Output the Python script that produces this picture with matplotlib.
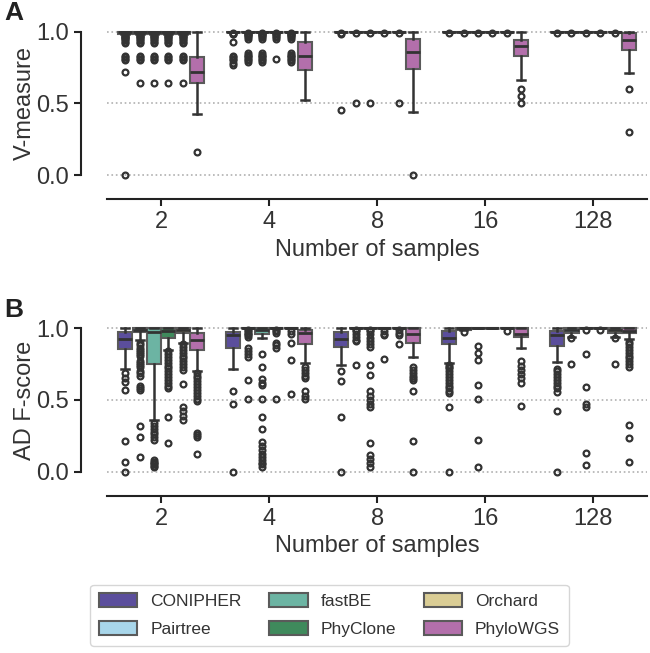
"""
Grouped boxplots of V-measure and AD F-score per method against number of samples.
"""
import numpy as np
import matplotlib.pyplot as plt
from matplotlib.patches import Patch

plt.rcParams['font.family'] = ['Liberation Sans', 'DejaVu Sans']

methods = ['CONIPHER', 'Pairtree', 'fastBE', 'PhyClone', 'Orchard', 'PhyloWGS']
colors = ['#5b4e9c', '#a8d6ea', '#6cb4a3', '#3f8a5c', '#dacd95', '#b36fab']
samples = ['2', '4', '8', '16', '128']

# box stats per sample group: (q1, median, q3, whisker low, whisker high)
FLAT = (1.0, 1.0, 1.0, 1.0, 1.0)
TOP = (0.985, 1.0, 1.0, 0.985, 1.0)

# --- panel A: V-measure ---
vm_conipher = [TOP, FLAT, FLAT, FLAT, FLAT]
vm_pairtree = [TOP, FLAT, FLAT, FLAT, FLAT]
vm_fastbe = [TOP, FLAT, FLAT, FLAT, FLAT]
vm_phyclone = [TOP, FLAT, FLAT, FLAT, FLAT]
vm_orchard = [TOP, FLAT, FLAT, FLAT, FLAT]
vm_phylowgs = [(0.645, 0.72, 0.82, 0.425, 1.0), (0.73, 0.83, 0.93, 0.525, 1.0),
               (0.74, 0.86, 0.95, 0.44, 1.0), (0.83, 0.90, 0.94, 0.665, 1.0),
               (0.87, 0.94, 0.99, 0.71, 1.0)]

vm_conipher_out = [[0.975, 0.97, 0.965, 0.96, 0.955, 0.95, 0.94, 0.93, 0.92, 0.83, 0.82, 0.81, 0.80, 0.72, 0.0],
                   [0.99, 0.985, 0.98, 0.93, 0.83, 0.82, 0.81, 0.80, 0.78, 0.77],
                   [0.99, 0.985, 0.45], [0.993], [0.99]]
vm_pairtree_out = [[0.975, 0.97, 0.965, 0.96, 0.95, 0.94, 0.93, 0.92, 0.83, 0.82, 0.81, 0.80, 0.645],
                   [0.99, 0.985, 0.98, 0.975, 0.97, 0.96, 0.95, 0.85, 0.84, 0.83, 0.82, 0.81, 0.80, 0.79],
                   [0.99, 0.50], [0.993], [0.99]]
vm_fastbe_out = [[0.975, 0.97, 0.965, 0.96, 0.95, 0.94, 0.93, 0.92, 0.83, 0.82, 0.81, 0.80, 0.645],
                 [0.99, 0.985, 0.98, 0.975, 0.97, 0.96, 0.95, 0.85, 0.84, 0.83, 0.82, 0.81, 0.80, 0.79],
                 [0.99, 0.50], [0.993], [0.99]]
vm_phyclone_out = [[0.975, 0.97, 0.965, 0.96, 0.95, 0.94, 0.93, 0.92, 0.83, 0.82, 0.81, 0.80, 0.645],
                   [0.99, 0.985, 0.98, 0.97, 0.96, 0.95, 0.81],
                   [0.99], [0.993], [0.99]]
vm_orchard_out = [[0.975, 0.97, 0.965, 0.96, 0.95, 0.94, 0.93, 0.92, 0.83, 0.82, 0.81, 0.80, 0.645],
                  [0.99, 0.985, 0.98, 0.975, 0.97, 0.96, 0.95, 0.85, 0.84, 0.83, 0.82, 0.81, 0.80, 0.79],
                  [0.99, 0.50], [0.993], [0.99]]
vm_phylowgs_out = [[0.16], [], [0.0], [0.60, 0.55, 0.50], [0.60, 0.30]]

# --- panel B: AD F-score ---
ad_conipher = [(0.856, 0.926, 0.977, 0.716, 1.0), (0.865, 0.953, 0.977, 0.714, 1.0),
               (0.867, 0.923, 0.977, 0.744, 1.0), (0.888, 0.935, 0.984, 0.756, 1.0),
               (0.877, 0.953, 0.984, 0.767, 1.0)]
ad_pairtree = [(0.977, 0.99, 1.0, 0.92, 1.0), FLAT, FLAT, TOP, (0.965, 0.99, 1.0, 0.94, 1.0)]
ad_fastbe = [(0.75, 0.972, 1.0, 0.36, 1.0), (0.96, 0.99, 1.0, 0.93, 1.0), FLAT, FLAT, FLAT]
ad_phyclone = [(0.935, 0.984, 1.0, 0.85, 1.0), FLAT, FLAT, FLAT, FLAT]
ad_orchard = [(0.965, 0.985, 1.0, 0.90, 1.0), FLAT, FLAT, FLAT, (0.965, 0.99, 1.0, 0.94, 1.0)]
ad_phylowgs = [(0.85, 0.92, 0.965, 0.70, 1.0), (0.89, 0.965, 0.99, 0.76, 1.0),
               (0.895, 0.96, 1.0, 0.80, 1.0), (0.937, 0.96, 1.0, 0.86, 1.0),
               (0.965, 0.98, 1.0, 0.923, 1.0)]

ad_conipher_out = [[0.686, 0.656, 0.628, 0.57, 0.216, 0.07, 0.0],
                   [0.56, 0.47, 0.0],
                   [0.70, 0.63, 0.38, 0.0],
                   [0.744, 0.73, 0.72, 0.70, 0.68, 0.66, 0.64, 0.62, 0.60, 0.58, 0.56, 0.547, 0.453, 0.0],
                   [0.714, 0.70, 0.68, 0.66, 0.64, 0.62, 0.60, 0.58, 0.558, 0.42, 0.0]]
ad_pairtree_out = [[0.895, 0.88, 0.865, 0.85, 0.835, 0.82, 0.81, 0.77, 0.76, 0.745, 0.73, 0.70, 0.685,
                    0.67, 0.60, 0.585, 0.57, 0.32, 0.24, 0.10],
                   [0.99, 0.98, 0.97, 0.96, 0.95, 0.94, 0.86, 0.84, 0.82, 0.80, 0.64, 0.51],
                   [0.99, 0.98, 0.96, 0.94, 0.92, 0.91, 0.744],
                   [0.977],
                   [0.93, 0.75]]
ad_fastbe_out = [[0.34, 0.32, 0.30, 0.28, 0.26, 0.24, 0.22, 0.08, 0.07, 0.06, 0.05, 0.04, 0.035],
                 [0.82, 0.73, 0.645, 0.62, 0.605, 0.505, 0.38, 0.30, 0.21, 0.18, 0.15, 0.12, 0.10,
                  0.08, 0.06, 0.05, 0.035],
                 [0.99, 0.98, 0.96, 0.93, 0.91, 0.89, 0.87, 0.744, 0.674, 0.56, 0.53, 0.50, 0.47,
                  0.45, 0.20, 0.116, 0.09, 0.06, 0.035],
                 [0.875, 0.83, 0.78, 0.605, 0.505, 0.22, 0.035],
                 [0.99, 0.82, 0.593, 0.47, 0.45, 0.128, 0.047]]
ad_phyclone_out = [[0.84, 0.82, 0.80, 0.78, 0.76, 0.74, 0.72, 0.70, 0.68, 0.66, 0.64, 0.62, 0.60,
                    0.58, 0.38, 0.20],
                   [0.99, 0.98, 0.97, 0.90, 0.88, 0.86, 0.51],
                   [0.98, 0.96, 0.95, 0.784],
                   [],
                   [0.99]]
ad_orchard_out = [[0.89, 0.87, 0.85, 0.83, 0.81, 0.79, 0.77, 0.75, 0.73, 0.71, 0.61, 0.45, 0.42,
                   0.39, 0.36],
                  [0.98, 0.96, 0.895, 0.78, 0.54],
                  [0.99, 0.97, 0.95, 0.89],
                  [0.98],
                  [0.93, 0.75]]
ad_phylowgs_out = [[0.69, 0.67, 0.65, 0.63, 0.61, 0.59, 0.57, 0.55, 0.53, 0.51, 0.49, 0.27, 0.255,
                    0.24, 0.12],
                   [0.73, 0.71, 0.69, 0.67, 0.65, 0.56, 0.53, 0.505],
                   [0.73, 0.71, 0.69, 0.67, 0.65, 0.64, 0.56, 0.216, 0.0],
                   [0.77, 0.74, 0.71, 0.68, 0.65, 0.62, 0.46],
                   [0.907, 0.89, 0.87, 0.85, 0.83, 0.81, 0.79, 0.77, 0.75, 0.733, 0.326, 0.233, 0.07]]


def box_panel(ax, boxes, outs, ylabel, letter):
    n = len(methods)
    width = 0.8 / n
    x = np.arange(len(samples))
    for j in range(n):
        stats = []
        for i in range(len(samples)):
            q1, med, q3, lo, hi = boxes[j][i]
            stats.append(dict(q1=q1, med=med, q3=q3, whislo=lo, whishi=hi,
                              fliers=outs[j][i]))
        pos = x + (j - (n - 1) / 2) * width
        bp = ax.bxp(stats, positions=pos, widths=width * 0.98, patch_artist=True,
                    capwidths=width * 0.55, manage_ticks=False,
                    boxprops=dict(edgecolor='#5a5a5a', linewidth=1.5),
                    medianprops=dict(color='#333333', linewidth=2),
                    whiskerprops=dict(color='#333333', linewidth=1.8),
                    capprops=dict(color='#333333', linewidth=1.8),
                    flierprops=dict(marker='o', markersize=4.2, markerfacecolor='none',
                                    markeredgecolor='#333333', markeredgewidth=1.6))
        for b in bp['boxes']:
            b.set_facecolor(colors[j])

    ax.set_xlim(-0.5, len(samples) - 0.5)
    ax.set_ylim(-0.03, 1.03)
    ax.set_xticks(x)
    ax.set_xticklabels(samples)
    ax.set_yticks([0, 0.5, 1.0])
    ax.set_yticklabels(['0.0', '0.5', '1.0'])
    ax.yaxis.grid(True, ls=':', color='#b0b0b0', lw=1.2)
    ax.set_axisbelow(True)
    for s in ['top', 'right']:
        ax.spines[s].set_visible(False)
    ax.spines['left'].set_bounds(0, 1)
    ax.spines['left'].set_position(('outward', 19))
    ax.spines['bottom'].set_position(('outward', 14.5))
    for s in ['left', 'bottom']:
        ax.spines[s].set_linewidth(1.5)
        ax.spines[s].set_color('#222222')
    ax.tick_params(labelsize=17, length=5, width=1.5, color='#222222', labelcolor='#333333')
    ax.set_xlabel('Number of samples', fontsize=17, color='#333333', labelpad=4)
    ax.set_ylabel(ylabel, fontsize=17, color='#333333', labelpad=0)
    ax.text(-0.19, 1.17, letter, transform=ax.transAxes, fontsize=19,
            fontweight='bold', color='#222222', va='top', ha='left')


fig = plt.figure(figsize=(6.5, 6.53), dpi=100)
ax_a = fig.add_axes([0.165, 0.7254, 0.8305, 0.2328])
ax_b = fig.add_axes([0.165, 0.2711, 0.8305, 0.2328])

box_panel(ax_a, [vm_conipher, vm_pairtree, vm_fastbe, vm_phyclone, vm_orchard, vm_phylowgs],
          [vm_conipher_out, vm_pairtree_out, vm_fastbe_out, vm_phyclone_out, vm_orchard_out,
           vm_phylowgs_out], 'V-measure', 'A')
box_panel(ax_b, [ad_conipher, ad_pairtree, ad_fastbe, ad_phyclone, ad_orchard, ad_phylowgs],
          [ad_conipher_out, ad_pairtree_out, ad_fastbe_out, ad_phyclone_out, ad_orchard_out,
           ad_phylowgs_out], 'AD F-score', 'B')

handles = [Patch(facecolor=c, edgecolor='#5a5a5a', linewidth=1.5) for c in colors]
fig.legend(handles, methods, ncol=3, loc='lower center', bbox_to_anchor=(0.507, 0.006),
           fontsize=12.5, handlelength=2.2, handleheight=0.8, columnspacing=1.6,
           handletextpad=0.75, labelspacing=0.7, borderpad=0.5, borderaxespad=0.2,
           frameon=True, edgecolor='#cccccc', fancybox=True, labelcolor='#333333')

plt.savefig('out.png', dpi=100)
